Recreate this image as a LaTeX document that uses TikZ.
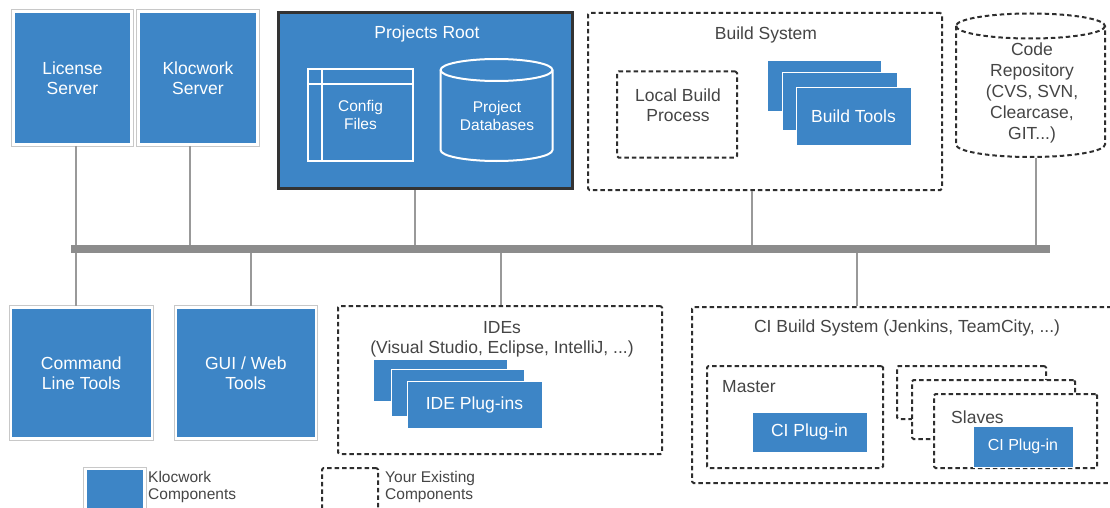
\documentclass[tikz,border=0pt]{standalone}
\usepackage{fontspec}
\setmainfont{Liberation Sans}
\usetikzlibrary{calc}
\definecolor{kwblue}{HTML}{3D85C6}
\definecolor{kwedge}{HTML}{C8C8C8}
\definecolor{txtgray}{HTML}{454545}
\definecolor{dashc}{HTML}{2E2E2E}
\definecolor{conncol}{HTML}{999999}
\definecolor{buscol}{HTML}{8C8C8C}
\definecolor{prborder}{HTML}{333333}
\newcommand\kwmain{\fontsize{17.5}{20.5}\selectfont}
\newcommand\kwrepo{\fontsize{17.5}{21}\selectfont}
\newcommand\kwsmall{\fontsize{15.5}{18}\selectfont}
\newcommand\kwslave{\fontsize{16}{18}\selectfont}
\newcommand\kwleg{\fontsize{15.5}{17}\selectfont}
\begin{document}
\begin{tikzpicture}[x=1pt,y=-1pt,
  kw/.style={rectangle, inner sep=0pt, align=center, fill=kwblue, draw=white,
    line width=2.5pt, preaction={draw=kwedge, line width=4.5pt}, text=white, font=\kwmain},
  stk/.style={rectangle, inner sep=0pt, fill=kwblue, draw=white, line width=1pt,
    text=white, align=center, font=\kwmain},
  dsh/.style={rectangle, inner sep=0pt, fill=white, draw=dashc, line width=2pt,
    dash pattern=on 4.5pt off 3pt, rounded corners=1.5pt},
  dline/.style={draw=dashc, line width=2pt, dash pattern=on 4.5pt off 3pt},
  lbl/.style={text=txtgray, font=\kwmain, align=center, inner sep=0pt},
  wlbl/.style={text=white, font=\kwmain, align=center, inner sep=0pt},
  conn/.style={draw=conncol, line width=2.2pt},
  sz/.style 2 args={minimum width=#1pt, minimum height=#2pt}]
\useasboundingbox (0,0) rectangle (1110,508);
\clip (0,0) rectangle (1110,508);

% bus
\node[fill=buscol, inner sep=0pt, sz={979}{8}] (bus) at (560.5,249) {};

% top row
\node[kw, sz={118}{133}] (ls) at (72.5,78) {License\\Server};
\node[kw, sz={119}{133}] (ks) at (198,78) {Klocwork\\Server};

\node[rectangle, inner sep=0pt, fill=kwblue, draw=prborder, line width=3pt, sz={294}{176}] (pr) at (425.5,100.5) {};
\node[wlbl] (prt) at (427,34) {Projects Root};
\node[rectangle, inner sep=0pt, draw=white, line width=2pt, sz={105}{92}, text=white, font=\kwsmall, align=center] (cf) at (360.5,115) {Config\\Files};
\draw[white, line width=2pt] ([xshift=15pt]cf.north west) -- ([xshift=15pt]cf.south west);
\draw[white, line width=2pt] ([yshift=-16pt]cf.north west) -- ([yshift=-16pt]cf.north east);
\draw[white, line width=2pt] (440.5,70) -- (440.5,150)
  arc[start angle=180, end angle=360, x radius=56pt, y radius=11pt] -- (552.5,70)
  arc[start angle=0, end angle=180, x radius=56pt, y radius=11pt] -- cycle;
\draw[white, line width=2pt] (440.5,70) arc[start angle=180, end angle=360, x radius=56pt, y radius=11pt];
\node[wlbl, font=\kwsmall] (pdb) at (497,116) {Project\\Databases};

\node[dsh, sz={354}{177}] (bs) at (765,101.5) {};
\node[lbl] (bst) at (766,35) {Build System};
\node[dsh, sz={120}{86}] (lbp) at (677,114.5) {};
\node[lbl] (lbpt) at (678,105) {Local Build\\Process};
\node[stk, sz={114}{51}] (bt1) at (824,86.5) {};
\node[stk, sz={115}{57}] (bt2) at (839.5,101.5) {};
\node[stk, sz={115}{57}] (bt3) at (853.5,116.5) {Build Tools};

% code repository cylinder
\node[inner sep=0pt, sz={149}{144}] (cr) at (1030.5,85.5) {};
\draw[dline] (956,26) -- (956,144.5)
  arc[start angle=180, end angle=360, x radius=74.5pt, y radius=12.5pt] -- (1105,26)
  arc[start angle=0, end angle=180, x radius=74.5pt, y radius=12.5pt] -- cycle;
\draw[dline] (956,26) arc[start angle=180, end angle=360, x radius=74.5pt, y radius=12.5pt];
\node[lbl, font=\kwrepo] (crt) at (1032,92.5) {Code\\Repository\\(CVS, SVN,\\Clearcase,\\GIT...)};

% bottom row
\node[kw, sz={141}{131}] (clt) at (81.3,373) {Command\\Line Tools};
\node[kw, sz={140}{131}] (gui) at (245.8,373) {GUI / Web\\Tools};

\node[dsh, sz={324}{148}] (ide) at (500,380) {};
\node[lbl] (idet) at (502,339.5) {IDEs\\(Visual Studio, Eclipse, IntelliJ, ...)};
\node[stk, sz={134}{42}] (ip1) at (440,380) {};
\node[stk, sz={133}{47}] (ip2) at (457.5,392.5) {};
\node[stk, sz={135}{47}] (ip3) at (474.5,404.5) {IDE Plug-ins};

\node[dsh, sz={421}{176}] (ci) at (902.5,395) {};
\node[lbl] (cit) at (907,328) {CI Build System (Jenkins, TeamCity, ...)};
\node[dsh, sz={176}{102}] (ma) at (795,417) {};
\node[lbl, anchor=west] (mat) at (722,387) {Master};
\node[stk, sz={115}{40}] (mp) at (809.5,432) {CI Plug-in};
\node[dsh, sz={149}{53}] (s1) at (971.5,392.5) {};
\node[dsh, sz={163}{59}] (s2) at (993.5,409.5) {};
\node[dsh, sz={163}{74}] (s3) at (1015.5,431) {};
\node[lbl, anchor=west] (s3t) at (951,417) {Slaves};
\node[stk, sz={100}{41}, font=\kwslave] (sp) at (1023,446.5) {CI Plug-in};

% legend
\node[kw, sz={59}{51}] (lk) at (115,494.6) {};
\node[lbl, font=\kwleg, anchor=west, align=left] (lkt) at (148,486.5) {Klocwork\\Components};
\node[dsh, sz={56}{52}] (le) at (350,494) {};
\node[lbl, font=\kwleg, anchor=west, align=left] (let) at (385,486.5) {Your Existing\\Components};

% connectors
\coordinate (a1) at ($(ls.south)+(3.5,0)$);
\coordinate (a2) at ($(ks.south)+(-8,0)$);
\coordinate (a3) at ($(pr.south)+(-10.5,0)$);
\coordinate (a4) at ($(bs.south)+(-13,0)$);
\coordinate (a5) at ($(cr.south)+(5.5,0)$);
\coordinate (b1) at ($(clt.north)+(-5.3,0)$);
\coordinate (b2) at ($(gui.north)+(5.2,0)$);
\coordinate (b3) at ($(ide.north)+(1,0)$);
\coordinate (b4) at ($(ci.north)+(-45.5,0)$);
\foreach \c in {a1,a2,a3,a4,a5} \draw[conn] (\c) -- (\c |- bus.north);
\foreach \c in {b1,b2,b3,b4} \draw[conn] (\c |- bus.south) -- (\c);
\end{tikzpicture}
\end{document}
